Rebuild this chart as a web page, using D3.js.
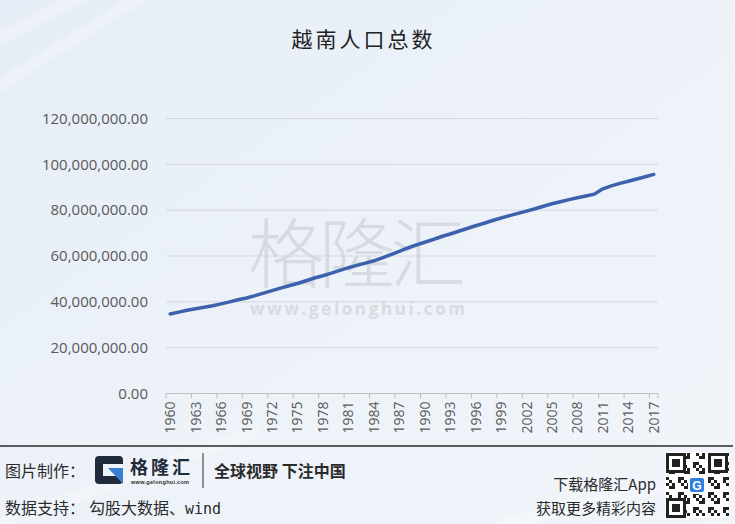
<!DOCTYPE html>
<meta charset="utf-8">
<style>
    body { margin: 0; }
    .grid line { stroke: #d3d7dc; }
    .tick text { fill: #595959; font-family: 'Open Sans', 'Noto Sans', sans-serif; }
    .footer { font-family: 'Noto Sans CJK SC', sans-serif; fill: #2b2b2b; }
</style>
<body>
<script src="https://cdn.jsdelivr.net/npm/d3@7"></script>
<script>
var years = d3.range(1960, 2018);
// population, millions
var population = [34.7, 35.5, 36.3, 37.0, 37.6, 38.3, 39.1, 40.0, 40.9, 41.7,
    42.7, 43.8, 44.9, 46.0, 47.0, 48.0, 49.2, 50.4, 51.4, 52.5,
    53.7, 54.9, 55.9, 56.9, 57.9, 59.2, 60.6, 62.0, 63.5, 64.8,
    66.0, 67.2, 68.5, 69.6, 70.8, 72.0, 73.2, 74.3, 75.5, 76.6,
    77.6, 78.6, 79.6, 80.6, 81.7, 82.8, 83.7, 84.6, 85.4, 86.2,
    87.0, 89.3, 90.6, 91.7, 92.6, 93.6, 94.6, 95.6];
var yTicks = [0, 20e6, 40e6, 60e6, 80e6, 100e6, 120e6];

var width = 735, height = 524;

var svg = d3.select("body").append("svg")
    .attr("width", width)
    .attr("height", height);

var defs = svg.append("defs");
var bg = defs.append("linearGradient").attr("id", "bg")
    .attr("x1", 0).attr("y1", 0).attr("x2", 1).attr("y2", 1);
bg.append("stop").attr("offset", "0").attr("stop-color", "#e6edf6");
bg.append("stop").attr("offset", "0.5").attr("stop-color", "#edf2f9");
bg.append("stop").attr("offset", "1").attr("stop-color", "#f1f5fa");

svg.append("rect").attr("width", width).attr("height", height).attr("fill", "url(#bg)");

// faint streaks
[[-40, 60, 150, -40], [-40, 110, 200, -40], [0, 524, 260, 430], [500, 524, 735, 470]].forEach(function(s) {
    svg.append("line").attr("x1", s[0]).attr("y1", s[1]).attr("x2", s[2]).attr("y2", s[3])
        .attr("stroke", "#ffffff").attr("stroke-width", 12).attr("opacity", 0.25);
});

svg.append("text")
    .attr("x", 362).attr("y", 47)
    .attr("text-anchor", "middle")
    .attr("textLength", 141)
    .style("font-family", "'Noto Sans CJK SC', sans-serif")
    .style("font-size", "21px")
    .style("fill", "#222")
    .text("越南人口总数");

var x = d3.scaleBand().domain(years).range([166, 658]).padding(0);
var y = d3.scaleLinear().domain([0, 120e6]).range([393.5, 118.5]);

// watermark (one text element, two lines)
var wm = svg.append("text")
    .style("fill", "#c9cdd2").style("opacity", 0.6);
wm.append("tspan")
    .attr("x", 248).attr("y", 282)
    .attr("textLength", 218)
    .style("font-family", "'Noto Sans CJK SC', sans-serif")
    .style("font-weight", 300)
    .style("font-size", "76px")
    .text("格隆汇");
wm.append("tspan")
    .attr("x", 250).attr("y", 315)
    .attr("textLength", 215)
    .style("font-family", "'Open Sans', sans-serif")
    .style("font-weight", 700)
    .style("font-size", "17px")
    .text("www.gelonghui.com");

var grid = svg.append("g").attr("class", "grid");
grid.selectAll("line").data(yTicks.slice(1)).enter().append("line")
    .attr("x1", 166).attr("x2", 658)
    .attr("y1", function(d) { return y(d); })
    .attr("y2", function(d) { return y(d); });

var yAxis = svg.append("g")
    .attr("transform", "translate(148,0)")
    .call(d3.axisLeft(y).tickValues(yTicks).tickSize(0).tickPadding(0)
        .tickFormat(function(d) { return d3.format(",.2f")(d); }));
yAxis.select(".domain").remove();
yAxis.selectAll("text").style("font-size", "15px");

var tickYears = years.filter(function(d) { return (d - 1960) % 3 === 0; });

var xAxisG = svg.append("g").attr("transform", "translate(0,393.5)");
xAxisG.append("line").attr("x1", 166).attr("x2", 658).attr("stroke", "#bfbfbf");
xAxisG.selectAll(".tk").data(tickYears.concat([2018])).enter().append("line")
    .attr("class", "tk")
    .attr("x1", function(d) { return d === 2018 ? 658 : x(d); })
    .attr("x2", function(d) { return d === 2018 ? 658 : x(d); })
    .attr("y1", 0).attr("y2", 5)
    .attr("stroke", "#bfbfbf");
xAxisG.selectAll(".lb").data(tickYears).enter().append("text")
    .attr("class", "lb")
    .attr("transform", function(d) {
        return "translate(" + (x(d) + x.bandwidth() / 2 + 5) + ",8) rotate(-90)";
    })
    .attr("text-anchor", "end")
    .style("font-family", "'Open Sans', 'Noto Sans', sans-serif")
    .style("font-size", "14px")
    .style("fill", "#595959")
    .text(function(d) { return d; });

var line = d3.line()
    .x(function(d, i) { return x(years[i]) + x.bandwidth() / 2; })
    .y(function(d) { return y(d * 1e6); });

svg.append("path")
    .datum(population)
    .attr("d", line)
    .attr("fill", "none")
    .attr("stroke", "#3d62ad")
    .attr("stroke-width", 3.5)
    .attr("stroke-linejoin", "round")
    .attr("stroke-linecap", "round");

// footer
svg.append("line").attr("x1", 0).attr("x2", 733).attr("y1", 446).attr("y2", 446)
    .attr("stroke", "#2a2a2a").attr("stroke-width", 1.5);

var ft = svg.append("g").attr("class", "footer");
ft.append("text").attr("x", 5).attr("y", 477).style("font-size", "16px").text("图片制作：");
// logo
ft.append("rect").attr("x", 95).attr("y", 456).attr("width", 28).attr("height", 28).attr("rx", 4).attr("fill", "#1f2a3a");
ft.append("rect").attr("x", 103).attr("y", 464).attr("width", 20).attr("height", 12).attr("fill", "#eef3f9");
ft.append("path").attr("d", "M108,468 L123,468 L123,484 Z").attr("fill", "#3b7fd1");
ft.append("text").attr("x", 130).attr("y", 474).style("font-size", "18px").style("font-weight", 700)
    .attr("textLength", 60).style("fill", "#1f2a3a").text("格隆汇");
ft.append("text").attr("x", 131).attr("y", 484).style("font-size", "5.5px").attr("textLength", 58)
    .style("font-family", "sans-serif").style("font-weight", 700).text("www.gelonghui.com");
ft.append("line").attr("x1", 203).attr("x2", 203).attr("y1", 453).attr("y2", 488)
    .attr("stroke", "#2a2a2a").attr("stroke-width", 1);
ft.append("text").attr("x", 214).attr("y", 477).style("font-size", "16px").style("font-weight", 700)
    .text("全球视野 下注中国");
ft.append("text").attr("x", 5).attr("y", 514).style("font-size", "16px")
    .text("数据支持：")
    .append("tspan").attr("dx", 4).text("勾股大数据、")
    .append("tspan").style("font-family", "'DejaVu Sans Mono', monospace").style("font-size", "15px").text("wind");

ft.append("text").attr("x", 656).attr("y", 490).attr("text-anchor", "end").style("font-size", "15px").text("下载格隆汇App");
ft.append("text").attr("x", 656).attr("y", 514).attr("text-anchor", "end").style("font-size", "15px").text("获取更多精彩内容");

// QR-like block
var qr = ft.append("g").attr("transform", "translate(665,452)");
qr.append("rect").attr("width", 64).attr("height", 66).attr("fill", "#ffffff");
var cells = [];
for (var r = 0; r < 21; r++) {
    for (var c = 0; c < 21; c++) {
        if (((r * 7 + c * 13 + r * c) % 5) < 2) cells.push([r, c]);
    }
}
qr.selectAll(".c").data(cells).enter().append("rect")
    .attr("x", function(d) { return 1 + d[1] * 3; })
    .attr("y", function(d) { return 1 + d[0] * 3; })
    .attr("width", 3).attr("height", 3).attr("fill", "#222");
[[1, 1], [43, 1], [1, 46]].forEach(function(p) {
    qr.append("rect").attr("x", p[0]).attr("y", p[1]).attr("width", 20).attr("height", 20).attr("fill", "#222");
    qr.append("rect").attr("x", p[0] + 3).attr("y", p[1] + 3).attr("width", 14).attr("height", 14).attr("fill", "#fff");
    qr.append("rect").attr("x", p[0] + 6).attr("y", p[1] + 6).attr("width", 8).attr("height", 8).attr("fill", "#222");
});
qr.append("rect").attr("x", 23).attr("y", 24).attr("width", 18).attr("height", 18).attr("fill", "#fff");
qr.append("rect").attr("x", 25).attr("y", 26).attr("width", 14).attr("height", 14).attr("rx", 2).attr("fill", "#2f7fe0");
qr.append("text").attr("x", 32).attr("y", 38).attr("text-anchor", "middle").style("font-size", "12px")
    .style("font-weight", 700).style("fill", "#fff").style("font-family", "sans-serif").text("G");
</script>
</body>
